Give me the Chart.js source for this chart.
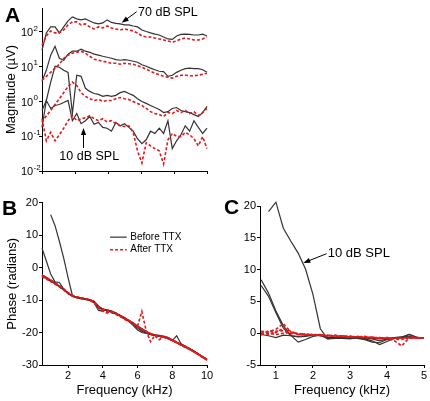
<!DOCTYPE html>
<html>
<head>
<meta charset="utf-8">
<script src="https://cdn.jsdelivr.net/npm/chart.js@4.4.1/dist/chart.umd.min.js"></script>
<style>
  body { margin: 0; background: #fff; width: 430px; height: 401px; position: relative; overflow: hidden; font-family: "Liberation Sans", Arial, sans-serif; }
  canvas { position: absolute; }
  .panel { position: absolute; font-weight: bold; font-size: 21px; line-height: 21px; color: #000; }
</style>
</head>
<body>
<canvas id="magA" width="215" height="190" style="left:0;top:0;width:215px;height:190px"></canvas>
<canvas id="phaseB" width="215" height="206" style="left:0;top:195px;width:215px;height:206px"></canvas>
<canvas id="phaseC" width="215" height="206" style="left:215px;top:195px;width:215px;height:206px"></canvas>
<div class="panel" style="left:5px;top:4px">A</div>
<div class="panel" style="left:2px;top:197px">B</div>
<div class="panel" style="left:224px;top:196px">C</div>
<script>
// frequency grid (kHz) for panels A and B
const freqA = [0.5,0.75,1,1.25,1.5,1.75,2,2.25,2.5,2.75,3,3.25,3.5,3.75,4,4.25,4.5,4.75,5,5.25,5.5,5.75,6,6.25,6.5,6.75,7,7.25,7.5,7.75,8,8.25,8.5,8.75,9,9.25,9.5,9.75,10];
// frequency grid (kHz) for panel C
const freqC = [0.6,0.8,1,1.2,1.4,1.6,1.8,2,2.2,2.4,2.6,2.8,3,3.2,3.4,3.6,3.8,4,4.2,4.4,4.6,4.8,5];

// A: magnitude (µV), before / after TTX, 70 -> 10 dB SPL
const magBefore70 = [30,94,140,140,94,140,208,272,238,223,238,208,182,171,182,223,188,176,171,160,160,149,140,114,103,94,87,82,72,63,61,77,85,87,85,82,82,87,77];
const magAfter70  = [42,77,107,94,94,114,160,195,195,160,171,140,122,140,131,149,131,122,114,122,114,107,94,77,72,72,67,63,59,55,51,55,63,67,63,59,59,63,72];
const magBefore50 = [3.8,7.9,21.5,39,17.6,15.4,23,28,28,32,28,26,23,21.5,20,18.8,17.6,16,15.4,16,15.4,14.4,13.5,11.4,10.3,9.1,8.2,7.4,7.2,5.3,5.7,6.9,7.9,8.8,9.1,8.8,8.8,8.2,6.9];
const magAfter50  = [4.1,5.3,6.9,9.1,11.8,17.6,21.5,24.6,26.3,28,24.6,20,16.5,15.4,14.4,13.5,12.6,12.6,11.8,12.6,12.2,11.8,10.7,9.7,8.5,7.4,6.5,5.9,5.3,5.0,4.7,5.3,5.7,5.7,5.5,5.5,5.7,6.1,6.5];
const magBefore30 = [0.55,1.07,3.6,10.3,9.7,7.9,6.9,0.45,5.7,5.3,2.4,1.95,1.7,1.6,1.4,1.5,1.4,1.5,1.8,1.95,1.7,1.5,1.2,1.0,0.88,0.77,0.67,0.59,0.48,0.51,0.63,0.67,0.55,0.51,0.48,0.42,0.37,0.48,0.72];
const magAfter30  = [0.25,0.39,0.55,0.82,1.2,1.8,2.7,3.6,2.9,1.8,1.4,1.2,1.07,1.14,1.0,1.07,1.07,1.2,1.3,1.2,1.14,1.0,0.88,0.77,0.63,0.51,0.45,0.42,0.37,0.48,0.45,0.55,0.48,0.55,0.45,0.51,0.39,0.48,0.63];
const magBefore10 = [0.18,1.07,0.63,0.77,0.82,0.94,1.07,0.28,0.45,0.23,0.28,0.37,0.22,0.25,0.18,0.17,0.14,0.25,0.2,0.23,0.18,0.14,0.085,0.061,0.079,0.14,0.12,0.17,0.12,0.28,0.044,0.074,0.11,0.2,0.14,0.28,0.18,0.12,0.17];
const magAfter10  = [0.32,0.074,0.13,0.074,0.11,0.17,0.28,0.39,0.28,0.32,0.34,0.39,0.32,0.28,0.32,0.26,0.28,0.23,0.2,0.19,0.2,0.13,0.038,0.017,0.065,0.053,0.044,0.038,0.016,0.079,0.12,0.1,0.097,0.13,0.11,0.085,0.053,0.097,0.044];

// B: phase (radians)
const phBefore10 = [null,null,16.3,12.9,8.1,2.9,-3.1,-8.6,-9.3,-9.5,-9.7,-10.0,-10.5,-12.5,-13.0,-13.3,-13.6,-14.2,-14.8,-15.6,-16.4,-17.3,-18.4,-19.3,-20.0,-20.5,-20.8,-21.0,-21.3,-21.7,-22.4,-23.0,-23.8,-24.4,-25.1,-25.9,-26.7,-27.6,-28.4];
const phBefore30 = [6.0,2.0,-2.0,-4.4,-4.6,-6.6,-7.9,-8.7,-9.2,-9.4,-9.6,-10.1,-10.8,-13.2,-13.4,-13.0,-13.4,-14.0,-14.8,-15.5,-16.3,-17.4,-18.6,-19.6,-20.2,-20.6,-20.9,-21.1,-21.3,-21.8,-22.5,-23.1,-23.8,-24.4,-25.0,-25.8,-26.6,-27.5,-28.3];
const phBefore50 = [-2.5,-3.4,-4.2,-5.0,-5.9,-6.9,-8.0,-8.9,-9.3,-9.6,-9.8,-10.0,-10.5,-12.0,-12.8,-13.3,-13.8,-14.3,-15.0,-15.8,-16.6,-17.8,-19.2,-20.0,-20.3,-20.6,-20.9,-21.2,-21.4,-21.9,-22.5,-21.0,-23.4,-24.3,-25.0,-25.8,-26.7,-27.6,-28.5];
const phBefore70 = [-2.2,-3.0,-3.9,-4.7,-5.7,-6.7,-7.8,-8.7,-9.1,-9.4,-9.6,-9.9,-10.4,-11.8,-12.8,-13.1,-13.4,-14.0,-14.7,-15.4,-16.2,-17.0,-18.0,-18.8,-19.6,-20.3,-20.7,-20.9,-21.1,-21.5,-22.2,-22.9,-23.6,-24.2,-24.9,-25.7,-26.5,-27.4,-28.2];
const phAfter10 = [-2.6,-3.5,-4.1,-4.9,-5.9,-6.9,-8.0,-8.8,-9.3,-9.6,-9.8,-10.1,-10.9,-12.6,-13.3,-13.6,-13.9,-14.4,-15.1,-15.9,-16.5,-17.3,-18.1,-13.5,-19.5,-22.8,-20.9,-21.2,-21.5,-21.8,-22.5,-23.2,-23.9,-24.6,-25.2,-26.0,-26.8,-27.7,-28.5];
const phAfter30 = [-2.3,-3.3,-4.3,-5.1,-5.9,-6.8,-7.8,-8.6,-9.1,-9.4,-9.7,-10.0,-10.7,-12.1,-13.0,-13.4,-13.7,-14.2,-15.0,-15.6,-16.4,-17.1,-18.2,-19.1,-20.0,-20.6,-21.0,-22.2,-21.4,-21.8,-22.4,-23.1,-23.7,-24.4,-25.2,-26.0,-26.7,-27.6,-28.4];
const phAfter50 = [-2.8,-3.6,-4.0,-4.8,-5.7,-6.6,-7.7,-8.5,-9.0,-9.3,-9.6,-9.9,-10.4,-12.5,-13.5,-14.0,-13.5,-14.0,-14.8,-15.5,-16.3,-17.2,-18.3,-19.0,-19.7,-20.3,-20.8,-21.1,-21.3,-21.7,-22.3,-23.0,-23.8,-24.5,-25.1,-25.9,-26.8,-27.5,-28.4];
const phAfter70 = [-2.4,-3.1,-3.8,-4.6,-5.6,-6.7,-7.8,-8.6,-9.1,-9.3,-9.6,-9.9,-10.5,-12.2,-12.8,-13.1,-13.5,-14.1,-14.9,-15.6,-16.4,-17.2,-18.2,-19.0,-19.8,-20.4,-20.9,-21.1,-21.4,-21.8,-22.4,-23.0,-23.7,-24.3,-25.0,-25.8,-26.6,-27.5,-28.3];

// C: phase (radians), low-frequency detail
const cBefore10 = [null,19.1,20.6,16.5,14.5,12.6,10.1,6.1,0.7,-0.9,-0.7,-0.7,-0.8,-0.7,-0.8,-0.9,-1.2,-0.9,-0.8,-0.6,-0.2,-0.7,-0.8];
const cBefore30 = [8.4,6.3,3.5,1.2,-0.3,-1.4,-1.0,-0.5,-0.3,-0.9,-0.8,-0.8,-0.9,-0.7,-0.9,-1.2,-1.8,-1.3,-0.8,-0.7,-0.2,-0.6,-0.8];
const cBefore50 = [7.5,5.8,3.2,0.8,-0.4,-0.6,-0.5,-0.3,-0.2,-0.7,-0.7,-0.8,-0.6,-0.8,-1.0,-1.4,-1.5,-1.0,-0.7,-0.6,-0.5,-0.7,-0.8];
const cBefore70 = [-0.2,-0.4,-0.7,-0.3,-0.4,-0.5,-0.4,-0.3,-0.4,-0.6,-0.6,-0.7,-0.6,-0.7,-0.7,-0.8,-0.9,-0.8,-0.7,-0.6,-0.7,-0.7,-0.8];
const cAfter10 = [0.3,0.2,0.6,1.5,0.2,-0.1,-0.2,-0.2,-0.3,-0.4,-0.4,-0.5,-0.5,-0.6,-0.6,-0.7,-0.8,-0.8,-1.2,-2.0,-0.7,-0.7,-0.8];
const cAfter30 = [-0.3,0.4,0.1,0.8,0.3,-0.2,-0.1,-0.3,-0.3,-0.3,-0.5,-0.4,-0.6,-0.5,-0.7,-0.6,-0.8,-0.7,-0.9,-1.0,-0.6,-0.7,-0.8];
const cAfter50 = [0.1,-0.2,0.3,0.4,-0.1,0.0,-0.3,-0.2,-0.4,-0.4,-0.3,-0.5,-0.5,-0.6,-0.5,-0.7,-0.7,-0.8,-0.8,-0.7,-0.8,-0.7,-0.8];
const cAfter70 = [-0.1,0.0,-0.2,0.0,0.1,-0.2,-0.2,-0.3,-0.3,-0.4,-0.5,-0.5,-0.6,-0.6,-0.7,-0.7,-0.8,-0.7,-0.8,-0.8,-0.8,-0.8,-0.8];

// tick positions
const decadeTicks = [0.01, 0.1, 1, 10, 100];
const decadeExp = ['-2', '-1', '0', '1', '2'];
const ticksA = [0.5, 2.4, 4.3, 6.2, 8.1, 10];
const ticksB = [2, 4, 6, 8, 10];
const ticksC = [1, 2, 3, 4, 5];

const FONT = "'Liberation Sans', Arial, sans-serif";
Chart.defaults.font.family = FONT;
Chart.defaults.color = '#000';
Chart.defaults.animation = false;

// lines may run a little past the plot frame, as in the original figure
const before = data => ({ data, borderColor: '#333', borderWidth: 1.2, pointRadius: 0, tension: 0, clip: false });
const after = data => ({ data, borderColor: '#e3191c', borderWidth: 1.6, borderDash: [3, 2], pointRadius: 0, tension: 0, clip: false });

const gridOpts = { drawOnChartArea: false, drawTicks: true, tickLength: 3, color: '#000' };
const setTicks = list => scale => { scale.ticks = list.map(v => ({ value: v })); };

function arrow(ctx, x1, y1, x2, y2) {
  const a = Math.atan2(y2 - y1, x2 - x1);
  ctx.beginPath(); ctx.moveTo(x1, y1); ctx.lineTo(x2 - 4 * Math.cos(a), y2 - 4 * Math.sin(a)); ctx.stroke();
  ctx.beginPath();
  ctx.moveTo(x2, y2);
  ctx.lineTo(x2 - 7 * Math.cos(a) + 2.6 * Math.sin(a), y2 - 7 * Math.sin(a) - 2.6 * Math.cos(a));
  ctx.lineTo(x2 - 7 * Math.cos(a) - 2.6 * Math.sin(a), y2 - 7 * Math.sin(a) + 2.6 * Math.cos(a));
  ctx.closePath(); ctx.fill();
}

// annotation anchors in data units
const notesA = { top: { text: '70 dB SPL', x: 6.03, y: 359, from: [5.95, 384], to: [5.09, 185] },
                 low: { text: '10 dB SPL', x: 3.22, y: 0.0258, from: [2.89, 0.0459], to: [2.89, 0.173] } };
const noteC = { text: '10 dB SPL', x: 2.40, y: 12.6, from: [2.37, 12.5], to: [1.74, 11.05] };
const legendB = { x1: 4.42, x2: 5.38, tx: 5.58, yBefore: 9.36, yAfter: 5.5 };

const magPlugin = {
  id: 'magNotes',
  afterDraw(chart) {
    const { ctx } = chart; const sx = chart.scales.x, sy = chart.scales.y;
    ctx.save();
    ctx.fillStyle = '#000'; ctx.strokeStyle = '#000'; ctx.lineWidth = 1;
    ctx.textBaseline = 'middle'; ctx.textAlign = 'left';
    decadeTicks.forEach((v, i) => {
      const py = sy.getPixelForValue(v);
      ctx.font = '11px ' + FONT; ctx.fillText('10', 21, py + 1);
      ctx.font = '8px ' + FONT; ctx.fillText(decadeExp[i], 33.5, py - 3.5);
    });
    ctx.font = '12.5px ' + FONT;
    ctx.fillText(notesA.top.text, sx.getPixelForValue(notesA.top.x), sy.getPixelForValue(notesA.top.y));
    arrow(ctx, sx.getPixelForValue(notesA.top.from[0]), sy.getPixelForValue(notesA.top.from[1]),
               sx.getPixelForValue(notesA.top.to[0]), sy.getPixelForValue(notesA.top.to[1]));
    ctx.textAlign = 'center';
    ctx.fillText(notesA.low.text, sx.getPixelForValue(notesA.low.x), sy.getPixelForValue(notesA.low.y));
    arrow(ctx, sx.getPixelForValue(notesA.low.from[0]), sy.getPixelForValue(notesA.low.from[1]),
               sx.getPixelForValue(notesA.low.to[0]), sy.getPixelForValue(notesA.low.to[1]));
    ctx.restore();
  }
};

const legendPlugin = {
  id: 'ttxLegend',
  afterDraw(chart) {
    const { ctx } = chart; const sx = chart.scales.x, sy = chart.scales.y;
    const x1 = sx.getPixelForValue(legendB.x1), x2 = sx.getPixelForValue(legendB.x2), tx = sx.getPixelForValue(legendB.tx);
    const yb = sy.getPixelForValue(legendB.yBefore), ya = sy.getPixelForValue(legendB.yAfter);
    ctx.save();
    ctx.lineWidth = 1.2; ctx.strokeStyle = '#333';
    ctx.beginPath(); ctx.moveTo(x1, yb); ctx.lineTo(x2, yb); ctx.stroke();
    ctx.lineWidth = 1.6; ctx.strokeStyle = '#e3191c'; ctx.setLineDash([3, 2]);
    ctx.beginPath(); ctx.moveTo(x1, ya); ctx.lineTo(x2, ya); ctx.stroke();
    ctx.setLineDash([]);
    ctx.fillStyle = '#000'; ctx.font = '10px ' + FONT; ctx.textBaseline = 'middle'; ctx.textAlign = 'left';
    ctx.fillText('Before TTX', tx, yb);
    ctx.fillText('After TTX', tx, ya);
    ctx.restore();
  }
};

const notePluginC = {
  id: 'splNote',
  afterDraw(chart) {
    const { ctx } = chart; const sx = chart.scales.x, sy = chart.scales.y;
    ctx.save();
    ctx.fillStyle = '#000'; ctx.strokeStyle = '#000'; ctx.lineWidth = 1;
    ctx.font = '13px ' + FONT; ctx.textBaseline = 'middle'; ctx.textAlign = 'left';
    ctx.fillText(noteC.text, sx.getPixelForValue(noteC.x), sy.getPixelForValue(noteC.y));
    arrow(ctx, sx.getPixelForValue(noteC.from[0]), sy.getPixelForValue(noteC.from[1]),
               sx.getPixelForValue(noteC.to[0]), sy.getPixelForValue(noteC.to[1]));
    ctx.restore();
  }
};

const baseOptions = {
  responsive: false,
  events: [],
  plugins: { legend: { display: false }, tooltip: { enabled: false } },
};

new Chart(document.getElementById('magA'), {
  type: 'line',
  data: {
    labels: freqA,
    datasets: [after(magAfter70), after(magAfter50), after(magAfter30), after(magAfter10),
               before(magBefore70), before(magBefore50), before(magBefore30), before(magBefore10)],
  },
  options: {
    ...baseOptions,
    layout: { padding: { left: 0, right: 8, top: 8, bottom: 0 } },
    scales: {
      x: { type: 'linear', min: 0.5, max: 10, afterBuildTicks: setTicks(ticksA), ticks: { display: false },
           grid: { ...gridOpts, tickLength: 3 }, border: { color: '#000' }, afterFit: s => { s.height = 19; } },
      y: { type: 'logarithmic', min: 0.01, max: 490, afterBuildTicks: setTicks(decadeTicks), ticks: { display: false },
           grid: gridOpts, border: { color: '#000' },
           title: { display: true, text: 'Magnitude (µV)', font: { size: 13 }, padding: { top: 4 } },
           afterFit: s => { s.width = 42; } },
    },
  },
  plugins: [magPlugin],
});

new Chart(document.getElementById('phaseB'), {
  type: 'line',
  data: {
    labels: freqA,
    datasets: [after(phAfter70), after(phAfter50), after(phAfter30), after(phAfter10),
               before(phBefore70), before(phBefore50), before(phBefore30), before(phBefore10)],
  },
  options: {
    ...baseOptions,
    layout: { padding: { left: 0, right: 8, top: 7, bottom: 0 } },
    scales: {
      x: { type: 'linear', min: 0.5, max: 10, afterBuildTicks: setTicks(ticksB),
           ticks: { font: { size: 11 }, padding: 1, maxRotation: 0 }, grid: gridOpts, border: { color: '#000' },
           title: { display: true, text: 'Frequency (kHz)', font: { size: 13 }, padding: { top: 0, bottom: 3 } },
           afterFit: s => { s.height = 36; } },
      y: { type: 'linear', min: -30, max: 20, ticks: { stepSize: 10, font: { size: 11 }, padding: 1 },
           grid: gridOpts, border: { color: '#000' },
           title: { display: true, text: 'Phase (radians)', font: { size: 13 }, padding: { top: 5 } },
           afterFit: s => { s.width = 42; } },
    },
  },
  plugins: [legendPlugin],
});

new Chart(document.getElementById('phaseC'), {
  type: 'line',
  data: {
    labels: freqC,
    datasets: [after(cAfter70), after(cAfter50), after(cAfter30), after(cAfter10),
               before(cBefore70), before(cBefore50), before(cBefore30), before(cBefore10)],
  },
  options: {
    ...baseOptions,
    layout: { padding: { left: 0, right: 6, top: 11, bottom: 0 } },
    scales: {
      x: { type: 'linear', min: 0.57, max: 5, afterBuildTicks: setTicks(ticksC),
           ticks: { font: { size: 11 }, padding: 1, maxRotation: 0 }, grid: gridOpts, border: { color: '#000' },
           title: { display: true, text: 'Frequency (kHz)', font: { size: 13 }, padding: { top: 0, bottom: 3 } },
           afterFit: s => { s.height = 36; } },
      y: { type: 'linear', min: -5, max: 20, ticks: { stepSize: 5, font: { size: 11 }, padding: 1 },
           grid: gridOpts, border: { color: '#000' },
           afterFit: s => { s.width = 45; } },
    },
  },
  plugins: [notePluginC],
});
</script>
</body>
</html>
